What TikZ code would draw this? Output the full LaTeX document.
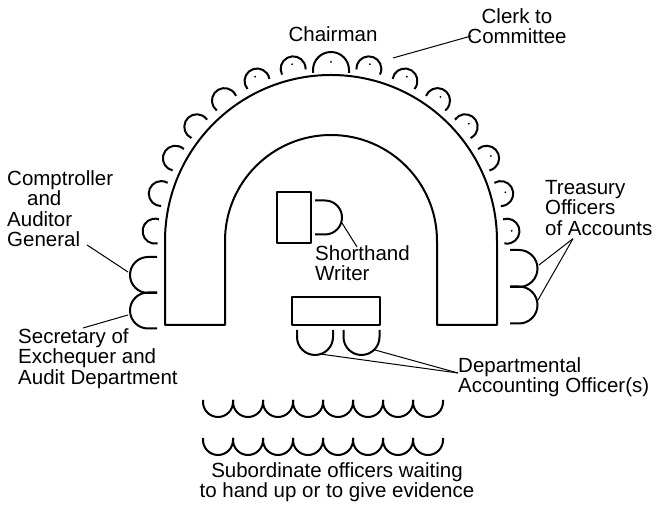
\documentclass[tikz,border=0pt]{standalone}
\usepackage{fontspec}
\setmainfont{Liberation Sans}
\usetikzlibrary{positioning}
\tikzset{
  desk/.style={line width=2pt, line join=round},
  lead/.style={line width=1pt},
  lbl/.style={inner sep=0, font=\fontsize{20.5}{20.5}\selectfont},
  pics/seat/.style 2 args={code={
    \draw[line width=2pt] (-#1,0) -- (-#1,#2) arc (180:0:#1) -- (#1,0);
  }},
  pics/stool/.style={code={
    \draw[line width=2pt] ([shift={(0,0.26*#1+2)}]195:#1) arc (195:-15:#1);
  }},
}

\begin{document}
\begin{tikzpicture}[x=1pt, y=1pt]
\useasboundingbox (0,0) rectangle (670,510);
\coordinate (C) at (331,269);

% the horseshoe table
\draw [desk] (165,185) -- (165,269) arc (180:0:166) -- (497,185) -- (437,185)
  -- (437,269) arc (0:180:106) -- (225,185) -- cycle;
% shorthand writer's desk and the witness table
\draw [desk] (277,267) rectangle (311,318);
\draw [desk] (292,185) rectangle (380,213);

% seats round the table
\pic at (331,437) {seat={18}{3}};
\foreach \k [evaluate=\k as \a using 12.4*\k] in {1,...,7} {
  \pic [rotate=\a] at ([shift={(90+\a:171)}]C) {stool=12.5};
  \pic [rotate=-\a] at ([shift={(90-\a:171)}]C) {stool=12.5};
}
\fill (331,448) circle (1);
\foreach \k [evaluate=\k as \a using 12.4*\k] in {1,...,7}
  \fill ([shift={(90-\a:181)}]C) circle (1);
\foreach \k [evaluate=\k as \a using 12.4*\k] in {1,2}
  \fill ([shift={(90+\a:181)}]C) circle (1);
\pic [rotate=90] at (157,235) {seat={18}{9}};
\pic [rotate=90] at (157,199.5) {seat={18}{9}};
\pic [rotate=-90] at (510,241.5) {seat={18.5}{9}};
\pic [rotate=-90] at (510,205) {seat={18.5}{9}};
\pic [rotate=-90] at (315,292.5) {seat={17}{10}};
\pic [rotate=180] at (315,180) {seat={18}{7}};
\pic [rotate=180] at (361.5,180) {seat={18}{7}};

% waiting officers
\foreach \k in {0,...,7} {
  \pic [rotate=180] at (218+30*\k,110) {seat={15}{2}};
  \pic [rotate=180] at (218+30*\k,72) {seat={15}{2}};
}

% labels
\node [lbl, anchor=base] (chr) at (333,468) {Chairman};
\node [lbl, align=center, anchor=north] (clerk) at (517,502) {Clerk to\\Committee};
\node [lbl, align=left, anchor=north west] (cag) at (7,340)
  {Comptroller\\\hspace*{20pt}and\\Auditor\\General};
\node [lbl, align=left, anchor=north west] (sec) at (18,182)
  {Secretary of\\Exchequer and\\Audit Department};
\node [lbl, align=left, anchor=north west] (tsy) at (545,330)
  {Treasury\\Officers\\of Accounts};
\node [lbl, align=left, anchor=north west] (shw) at (315,265) {Shorthand\\Writer};
\node [lbl, align=left, anchor=north west] (dao) at (458,153)
  {Departmental\\Accounting Officer(s)};
\node [lbl, align=center, anchor=north] (sub) at (337,48)
  {Subordinate officers waiting\\to hand up or to give evidence};

% leader lines
\coordinate (clerkseat) at (393,452);
\coordinate (cagseat) at (128,238);
\coordinate (secseat) at (128,195);
\coordinate (tsyseat1) at (539,245);
\coordinate (tsyseat2) at (538,210);
\coordinate (shwseat) at (342,287);
\coordinate (daoseat1) at (320,156);
\coordinate (daoseat2) at (375,160);
\draw [lead] (clerkseat) -- ([shift={(4pt,-10pt)}]clerk.west);
\draw [lead] ([shift={(80pt,2pt)}]cag.south west) -- (cagseat);
\draw [lead] ([xshift=65pt]sec.north west) -- (secseat);
\draw [lead] ([shift={(28pt,-3pt)}]tsy.south west) -- (tsyseat1);
\draw [lead] ([shift={(28pt,-3pt)}]tsy.south west) -- (tsyseat2);
\draw [lead] (shwseat) -- ([shift={(42pt,-2pt)}]shw.north west);
\draw [lead] (daoseat1) -- ([yshift=4pt]dao.west);
\draw [lead] (daoseat2) -- ([yshift=4pt]dao.west);
\end{tikzpicture}
\end{document}
